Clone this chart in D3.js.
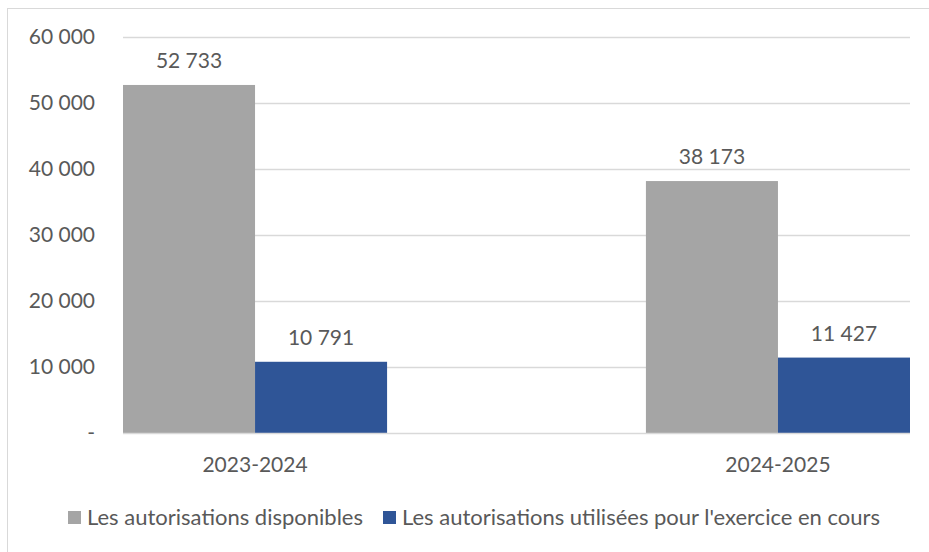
<!DOCTYPE html>
<html>
<head>
<meta charset="utf-8">
<script src="https://cdn.jsdelivr.net/npm/d3@7"></script>
<style>
  body { margin: 0; background: #fff; }
  text { font-family: Lato, "Open Sans", sans-serif; fill: #595959; }
</style>
</head>
<body>
<div id="chart"></div>
<script>
var categories = ["2023-2024", "2024-2025"];
var series = ["Les autorisations disponibles", "Les autorisations utilisées pour l'exercice en cours"];
var disponibles = [52733, 38173];
var utilisees = [10791, 11427];
var yTicks = [0, 10000, 20000, 30000, 40000, 50000, 60000];
var colors = ["#a5a5a5", "#2f5597"];

var width = 929, height = 552;
var margin = { top: 37, right: 19, bottom: 119, left: 123 };
var plotW = width - margin.left - margin.right,
    plotH = height - margin.top - margin.bottom;

var svg = d3.select("#chart").append("svg")
    .attr("width", width)
    .attr("height", height);

// chart border (right and bottom are off the picture)
svg.append("rect")
    .attr("x", 7.5).attr("y", 8.5)
    .attr("width", 940).attr("height", 560)
    .attr("fill", "none")
    .attr("stroke", "#d9d9d9");

var g = svg.append("g")
    .attr("transform", "translate(" + margin.left + "," + margin.top + ")");

var y = d3.scaleLinear().domain([0, 60000]).range([plotH, 0]);

var x0 = d3.scaleBand()
    .domain(categories)
    .range([0, plotW])
    .paddingInner(0.495)
    .paddingOuter(0);

var x1 = d3.scaleBand()
    .domain([0, 1])
    .range([0, x0.bandwidth()]);

var fmt = function(v) {
    if (v == 0) return "-";
    return d3.format(",")(v).replace(/,/g, " ");
};

// gridlines
g.selectAll(".grid")
    .data(yTicks.slice(1))
    .enter().append("line")
    .attr("x1", 0).attr("x2", plotW)
    .attr("y1", function(d) { return Math.round(y(d)) + 0.5; })
    .attr("y2", function(d) { return Math.round(y(d)) + 0.5; })
    .attr("stroke", "#d9d9d9")
    .attr("stroke-width", 1.5);

var yAxis = d3.axisLeft(y)
    .tickValues(yTicks)
    .tickSize(0)
    .tickPadding(28)
    .tickFormat(fmt);

var gy = g.append("g").call(yAxis);
gy.select(".domain").remove();
gy.selectAll("text").style("font-size", "21px").attr("fill", "#595959");

var rows = categories.map(function(c, i) {
    return { cat: c, values: [disponibles[i], utilisees[i]] };
});

var groups = g.selectAll(".grp")
    .data(rows)
    .enter().append("g")
    .attr("transform", function(d) { return "translate(" + x0(d.cat) + ",0)"; });

groups.selectAll("rect")
    .data(function(d) { return d.values; })
    .enter().append("rect")
    .attr("x", function(d, i) { return x1(i); })
    .attr("y", function(d) { return y(d); })
    .attr("width", x1.bandwidth())
    .attr("height", function(d) { return plotH - y(d); })
    .attr("fill", function(d, i) { return colors[i]; });

groups.selectAll(".lbl")
    .data(function(d) { return d.values; })
    .enter().append("text")
    .attr("x", function(d, i) { return x1(i) + x1.bandwidth() / 2; })
    .attr("y", function(d) { return y(d) - 17; })
    .attr("text-anchor", "middle")
    .style("font-size", "21px")
    .text(fmt);

// x axis line
g.append("line")
    .attr("x1", 0).attr("x2", plotW)
    .attr("y1", plotH + 0.5).attr("y2", plotH + 0.5)
    .attr("stroke", "#d9d9d9")
    .attr("stroke-width", 1.5);

// category labels, centred under each pair of bars
g.selectAll(".cat")
    .data(categories)
    .enter().append("text")
    .attr("x", function(d) { return x0(d) + x0.bandwidth() / 2; })
    .attr("y", plotH + 39)
    .attr("text-anchor", "middle")
    .style("font-size", "21px")
    .text(function(d) { return d; });

// legend
var legend = svg.append("g").attr("transform", "translate(68,511)");
var lx = [0, 315];
series.forEach(function(s, i) {
    var item = legend.append("g").attr("transform", "translate(" + lx[i] + ",0)");
    item.append("rect")
        .attr("width", 13).attr("height", 13)
        .attr("fill", colors[i]);
    item.append("text")
        .attr("x", 19).attr("y", 14)
        .style("font-size", "22px")
        .text(s);
});
</script>
</body>
</html>
